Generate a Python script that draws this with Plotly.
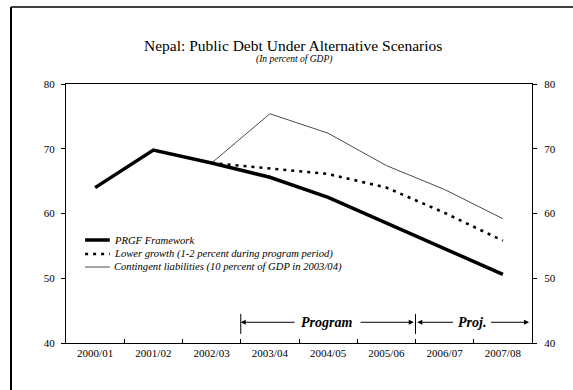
import plotly.graph_objects as go

years = ["2000/01", "2001/02", "2002/03", "2003/04", "2004/05", "2005/06", "2006/07", "2007/08"]
prgf = [64.0, 69.8, 67.8, 65.6, 62.5, 58.5, 54.6, 50.6]
lower_growth = [None, None, 67.8, 67.0, 66.1, 64.0, 60.1, 55.8]
contingent = [None, None, 67.8, 75.4, 72.4, 67.4, 63.7, 59.2]
y_ticks = [40, 50, 60, 70, 80]

legend_labels = [
    "PRGF Framework",
    "Lower growth (1-2 percent during program period)",
    "Contingent liabilities (10 percent of GDP in 2003/04)",
]

SERIF = "Liberation Serif, Times New Roman, serif"

fig = go.Figure()
fig.add_trace(go.Scatter(x=years, y=contingent, mode="lines",
                         line=dict(color="#4a4a4a", width=1), showlegend=False))
fig.add_trace(go.Scatter(x=years, y=lower_growth, mode="lines",
                         line=dict(color="black", width=2.6, dash="3px,5px"), showlegend=False))
fig.add_trace(go.Scatter(x=years, y=prgf, mode="lines",
                         line=dict(color="black", width=3.5), showlegend=False))
# invisible trace to anchor the right-hand axis
fig.add_trace(go.Scatter(x=years, y=prgf, mode="lines", yaxis="y2",
                         line=dict(color="rgba(0,0,0,0)", width=0), showlegend=False,
                         hoverinfo="skip"))

fig.update_layout(
    width=573, height=390,
    margin=dict(l=66, r=41, t=84, b=47),
    paper_bgcolor="white", plot_bgcolor="white",
    font=dict(family=SERIF, color="black", size=10),
    xaxis=dict(type="category", range=[-0.5, 7.5], showgrid=False, zeroline=False,
               showline=True, linecolor="black", linewidth=1, mirror=True,
               ticks="inside", ticklen=4, tickcolor="black", tickson="boundaries",
               tickfont=dict(family=SERIF, size=11)),
    yaxis=dict(range=[40, 80], tickvals=y_ticks, showgrid=False, zeroline=False,
               showline=True, linecolor="black", linewidth=1, mirror=True,
               ticks="outside", ticklen=4, tickcolor="black", ticklabelstandoff=4,
               tickfont=dict(family=SERIF, size=11)),
    yaxis2=dict(range=[40, 80], tickvals=y_ticks, overlaying="y", side="right",
                showgrid=False, zeroline=False, showline=False,
                ticks="outside", ticklen=4, tickcolor="black", ticklabelstandoff=5,
                tickfont=dict(family=SERIF, size=11)),
)

annotations = [
    dict(text="Nepal: Public Debt Under Alternative Scenarios", xref="paper", yref="paper",
         x=0.487, y=(343 - 45) / 259, showarrow=False, xanchor="center", yanchor="middle",
         font=dict(family=SERIF, size=15.5)),
    dict(text="<i>(In percent of GDP)</i>", xref="paper", yref="paper",
         x=0.49, y=(343 - 60) / 259, showarrow=False, xanchor="center", yanchor="middle",
         font=dict(family=SERIF, size=9.5)),
]

shapes = []
# legend
leg_y = [(343 - 240) / 259, (343 - 254) / 259, (343 - 267) / 259]
leg_styles = [dict(color="black", width=3.5), dict(color="black", width=2.4, dash="3px,5px"),
              dict(color="#4a4a4a", width=1)]
for lbl, yy, st in zip(legend_labels, leg_y, leg_styles):
    shapes.append(dict(type="line", xref="paper", yref="paper", x0=0.041, x1=0.094,
                       y0=yy, y1=yy, line=st))
    annotations.append(dict(text="<i>" + lbl + "</i>", xref="paper", yref="paper",
                            x=0.099, y=yy, showarrow=False, xanchor="left", yanchor="middle",
                            font=dict(family=SERIF, size=10.6)))

# program / projection markers
for xb in [2.5, 5.5]:
    shapes.append(dict(type="line", xref="x", yref="y", x0=xb, x1=xb, y0=41.4, y1=44.5,
                       line=dict(color="black", width=1)))
arr_y = 43.2
arrows = [(2.5, 3.45), (5.47, 4.53), (5.53, 6.17), (7.45, 6.77)]
for head, tail in arrows:
    annotations.append(dict(x=head, y=arr_y, ax=tail, ay=arr_y, xref="x", yref="y",
                            axref="x", ayref="y", text="", showarrow=True,
                            arrowhead=2, arrowsize=1, arrowwidth=1, arrowcolor="black"))
annotations.append(dict(x=3.98, y=arr_y, xref="x", yref="y", text="<b><i>Program</i></b>",
                        showarrow=False, font=dict(family=SERIF, size=14)))
annotations.append(dict(x=6.47, y=arr_y, xref="x", yref="y", text="<b><i>Proj.</i></b>",
                        showarrow=False, font=dict(family=SERIF, size=14)))

# outer frame
shapes.append(dict(type="line", xref="paper", yref="paper", x0=(11 - 66) / 466, x1=(11 - 66) / 466,
                   y0=(343 - 7) / 259, y1=(343 - 392) / 259, line=dict(color="black", width=2)))
shapes.append(dict(type="line", xref="paper", yref="paper", x0=(11 - 66) / 466, x1=(575 - 66) / 466,
                   y0=(343 - 7) / 259, y1=(343 - 7) / 259, line=dict(color="black", width=1.5)))

fig.update_layout(annotations=annotations, shapes=shapes)
fig.write_html("out.html")
